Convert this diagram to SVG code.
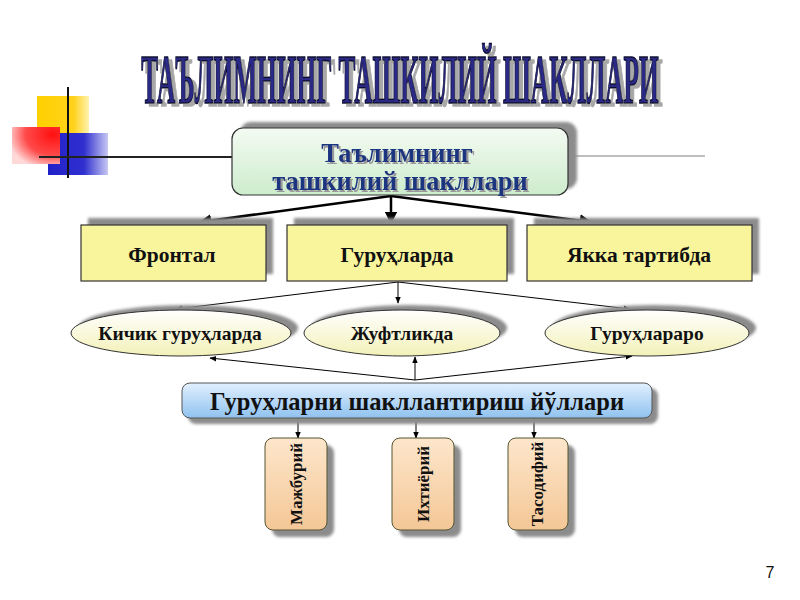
<svg xmlns="http://www.w3.org/2000/svg" width="800" height="600" viewBox="0 0 800 600">
<defs>
<linearGradient id="gTop" x1="0" y1="0" x2="0" y2="1"><stop offset="0" stop-color="#f4fbf2"/><stop offset="1" stop-color="#cdeccd"/></linearGradient>
<linearGradient id="gEll" x1="0" y1="0" x2="0" y2="1"><stop offset="0" stop-color="#ffffff"/><stop offset="1" stop-color="#f3f1b8"/></linearGradient>
<linearGradient id="gBlue" x1="0" y1="0" x2="0" y2="1"><stop offset="0" stop-color="#e2f0ff"/><stop offset="1" stop-color="#8fc2ef"/></linearGradient>
<linearGradient id="gPeach" x1="0" y1="0" x2="0" y2="1"><stop offset="0" stop-color="#fde6cb"/><stop offset="1" stop-color="#f4c796"/></linearGradient>
<linearGradient id="gYel" x1="0" y1="0" x2="1" y2="0"><stop offset="0" stop-color="#ffd000"/><stop offset="0.7" stop-color="#ffd21a"/><stop offset="1" stop-color="#fff3b0"/></linearGradient>
<linearGradient id="gBlu" x1="0" y1="0" x2="1" y2="0"><stop offset="0" stop-color="#2020c8"/><stop offset="0.6" stop-color="#3030d0"/><stop offset="1" stop-color="#c8c8f4"/></linearGradient>
<radialGradient id="gRed" cx="0.85" cy="0.2" r="0.95"><stop offset="0" stop-color="#ff1010"/><stop offset="0.6" stop-color="#ff4a4a"/><stop offset="1" stop-color="#ffd8d8"/></radialGradient>
<filter id="blur" x="-20%" y="-20%" width="140%" height="140%"><feGaussianBlur stdDeviation="1.5"/></filter>
<filter id="tsh" x="-5%" y="-20%" width="110%" height="150%">
<feOffset in="SourceAlpha" dx="2" dy="2" result="o"/>
<feFlood flood-color="#9a9a9a"/><feComposite in2="o" operator="in" result="s"/>
<feMerge><feMergeNode in="s"/><feMergeNode in="SourceGraphic"/></feMerge>
</filter>
<filter id="tsh2" x="-5%" y="-20%" width="110%" height="150%">
<feOffset in="SourceAlpha" dx="4" dy="3" result="o"/>
<feFlood flood-color="#a8a8a8"/><feComposite in2="o" operator="in" result="s"/>
<feMerge><feMergeNode in="s"/><feMergeNode in="SourceGraphic"/></feMerge>
</filter>
<marker id="ah" viewBox="0 0 10 10" refX="9" refY="5" markerWidth="5" markerHeight="5" orient="auto"><path d="M0,0 L10,5 L0,10 z" fill="#000"/></marker>
<marker id="ahs" viewBox="0 0 10 10" refX="9" refY="5" markerWidth="7" markerHeight="7" orient="auto"><path d="M0,1 L10,5 L0,9 z" fill="#000"/></marker>
</defs>
<style>
.sh{fill:#8c8c8c;filter:url(#blur)}
.rect{fill:#f9f59c;stroke:#333;stroke-width:1.2}
.t{font-family:"Liberation Serif",serif;font-weight:bold;text-anchor:middle;fill:#111}
.c{fill:none;stroke:#000}
</style>
<rect width="800" height="600" fill="#fff"/>

<g id="decor">
<rect x="37" y="96" width="52" height="50" fill="url(#gYel)"/>
<rect x="48" y="133" width="60" height="42" fill="url(#gBlu)"/>
<rect x="12" y="127" width="48" height="37" fill="url(#gRed)"/>
<line x1="68" y1="87" x2="68" y2="178" stroke="#111" stroke-width="2"/>
<line x1="39" y1="157" x2="233" y2="157" stroke="#222" stroke-width="2"/>
<line x1="570" y1="156" x2="705" y2="156" stroke="#aaa" stroke-width="1.5"/>
</g>

<g id="title" filter="url(#tsh2)">
<text transform="translate(400,103) scale(0.45,1)" x="0" y="0" class="t" font-size="70" textLength="1150" lengthAdjust="spacingAndGlyphs" style="fill:#2a2a86;stroke:#0a0a30;stroke-width:1.6">ТАЪЛИМНИНГ ТАШКИЛИЙ ШАКЛЛАРИ</text>
</g>

<g id="connectors">
<line x1="391" y1="196" x2="200" y2="222" class="c" stroke-width="2.5" marker-end="url(#ah)"/>
<line x1="391" y1="196" x2="391" y2="223" class="c" stroke-width="2.5" marker-end="url(#ah)"/>
<line x1="391" y1="196" x2="591" y2="222" class="c" stroke-width="2.5" marker-end="url(#ah)"/>
<line x1="398" y1="282" x2="176" y2="309" class="c" stroke-width="1" marker-end="url(#ahs)"/>
<line x1="398" y1="282" x2="398" y2="303" class="c" stroke-width="1" marker-end="url(#ahs)"/>
<line x1="398" y1="282" x2="630" y2="309" class="c" stroke-width="1" marker-end="url(#ahs)"/>
<line x1="415" y1="380" x2="210" y2="358" class="c" stroke-width="1" marker-end="url(#ahs)"/>
<line x1="415" y1="380" x2="415" y2="357" class="c" stroke-width="1" marker-end="url(#ahs)"/>
<line x1="415" y1="380" x2="632" y2="356" class="c" stroke-width="1" marker-end="url(#ahs)"/>
<line x1="298" y1="419" x2="298" y2="438" class="c" stroke-width="1" marker-end="url(#ahs)"/>
<line x1="416" y1="419" x2="416" y2="438" class="c" stroke-width="1" marker-end="url(#ahs)"/>
<line x1="534" y1="419" x2="534" y2="438" class="c" stroke-width="1" marker-end="url(#ahs)"/>
</g>

<g id="n-top">
<rect x="240" y="122" width="337" height="67" rx="11" class="sh"/>
<rect x="232" y="128" width="336" height="67" rx="11" fill="url(#gTop)" stroke="#333" stroke-width="1.2"/>
<g filter="url(#tsh)">
<text x="397" y="162" class="t" font-size="26.5" style="fill:#1f3680">Таълимнинг</text>
<text x="400" y="190" class="t" font-size="26.5" style="fill:#1f3680">ташкилий шакллари</text>
</g>
</g>

<g id="n-frontal">
<rect x="88" y="218" width="185" height="56" class="sh"/>
<rect x="81" y="225" width="185" height="56" class="rect"/>
<text x="172" y="262" class="t" font-size="21.5">Фронтал</text>
</g>
<g id="n-guruhlarda">
<rect x="294" y="218" width="220" height="56" class="sh"/>
<rect x="287" y="225" width="220" height="56" class="rect"/>
<text x="397" y="262" class="t" font-size="21.5">Гуруҳларда</text>
</g>
<g id="n-yakka">
<rect x="534" y="218" width="225" height="56" class="sh"/>
<rect x="527" y="225" width="225" height="56" class="rect"/>
<text x="639" y="262" class="t" font-size="21.5">Якка тартибда</text>
</g>

<g id="n-kichik">
<ellipse cx="188" cy="328" rx="110" ry="23" class="sh"/>
<ellipse cx="181" cy="333" rx="110" ry="23" fill="url(#gEll)" stroke="#333" stroke-width="1"/>
<text x="180" y="340" class="t" font-size="19.5">Кичик гуруҳларда</text>
</g>
<g id="n-juft">
<ellipse cx="409" cy="328" rx="98" ry="23" class="sh"/>
<ellipse cx="402" cy="333" rx="98" ry="23" fill="url(#gEll)" stroke="#333" stroke-width="1"/>
<text x="402" y="340" class="t" font-size="19.5">Жуфтликда</text>
</g>
<g id="n-aro">
<ellipse cx="654" cy="328" rx="102" ry="23" class="sh"/>
<ellipse cx="647" cy="333" rx="102" ry="23" fill="url(#gEll)" stroke="#333" stroke-width="1"/>
<text x="647" y="340" class="t" font-size="19.5">Гуруҳлараро</text>
</g>

<g id="n-yollar">
<rect x="188" y="388" width="470" height="36" rx="8" class="sh"/>
<rect x="182" y="383" width="470" height="35" rx="8" fill="url(#gBlue)" stroke="#555" stroke-width="1"/>
<text x="417" y="410" class="t" font-size="24.5">Гуруҳларни шакллантириш йўллари</text>
</g>

<g id="n-majburiy">
<rect x="272" y="445" width="62" height="92" rx="8" class="sh"/>
<rect x="265" y="438" width="62" height="92" rx="8" fill="url(#gPeach)" stroke="#553" stroke-width="1"/>
<text transform="translate(302,484) rotate(-90)" class="t" font-size="17">Мажбурий</text>
</g>
<g id="n-ixtiyoriy">
<rect x="399" y="445" width="62" height="92" rx="8" class="sh"/>
<rect x="392" y="438" width="62" height="92" rx="8" fill="url(#gPeach)" stroke="#553" stroke-width="1"/>
<text transform="translate(429,484) rotate(-90)" class="t" font-size="17">Ихтиёрий</text>
</g>
<g id="n-tasodifiy">
<rect x="515" y="445" width="60" height="92" rx="8" class="sh"/>
<rect x="508" y="438" width="60" height="92" rx="8" fill="url(#gPeach)" stroke="#553" stroke-width="1"/>
<text transform="translate(543,484) rotate(-90)" class="t" font-size="17">Тасодифий</text>
</g>

<text x="770" y="578" font-family="Liberation Sans, sans-serif" font-size="16" text-anchor="middle" fill="#111">7</text>
</svg>
